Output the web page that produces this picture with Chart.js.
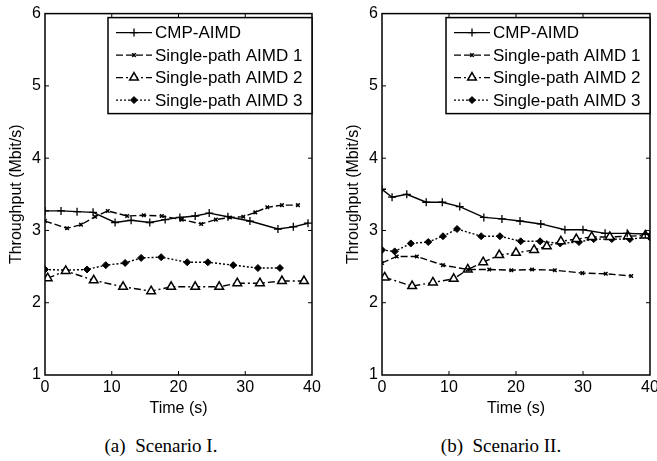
<!DOCTYPE html>
<html>
<head>
<meta charset="utf-8">
<script src="https://cdn.jsdelivr.net/npm/chart.js@4.4.1/dist/chart.umd.min.js"></script>
<style>
body { margin: 0; width: 657px; height: 461px; overflow: hidden; background: #fff; position: relative; }
canvas { position: absolute; top: 0; }
#chartA { left: 0; }
#chartB { left: 337px; }
.cap { position: absolute; top: 435px; width: 220px; text-align: center; font-family: "Liberation Serif", "DejaVu Serif", serif; font-size: 19px; white-space: pre; }
</style>
</head>
<body>
<canvas id="chartA" width="328" height="420"></canvas>
<canvas id="chartB" width="330" height="420"></canvas>
<div class="cap" style="left:51px">(a)  Scenario I.</div>
<div class="cap" style="left:391px">(b)  Scenario II.</div>
<script>
// legend labels
var names = ['CMP-AIMD', 'Single-path AIMD 1', 'Single-path AIMD 2', 'Single-path AIMD 3'];

// axis ticks
var xTicks = [0, 10, 20, 30, 40];
var yTicks = [1, 2, 3, 4, 5, 6];

// Scenario I
var cmpA_t = [0, 2.4, 4.8, 7.2, 10.5, 12.9, 15.7, 18.0, 20.2, 22.5, 24.6, 27.4, 30.7, 34.9, 37.2, 39.4];
var cmpA_v = [3.27, 3.27, 3.26, 3.25, 3.11, 3.14, 3.11, 3.15, 3.18, 3.20, 3.24, 3.19, 3.13, 3.02, 3.05, 3.10];
var a1A_t = [0, 3.3, 5.4, 7.5, 9.4, 12.3, 14.8, 17.5, 20.5, 23.4, 25.6, 27.7, 29.7, 31.5, 33.3, 35.5, 37.9];
var a1A_v = [3.13, 3.03, 3.08, 3.19, 3.27, 3.20, 3.21, 3.20, 3.15, 3.09, 3.15, 3.18, 3.19, 3.25, 3.32, 3.35, 3.35];
var a2A_t = [0.4, 3.1, 7.3, 11.7, 15.9, 18.9, 22.5, 26.1, 28.8, 32.2, 35.5, 38.8];
var a2A_v = [2.34, 2.44, 2.31, 2.22, 2.16, 2.22, 2.22, 2.22, 2.27, 2.27, 2.30, 2.30];
var a3A_t = [0, 3.1, 6.3, 9.1, 12.0, 14.4, 17.4, 21.3, 24.4, 28.2, 31.9, 35.2];
var a3A_v = [2.46, 2.45, 2.46, 2.52, 2.55, 2.62, 2.63, 2.56, 2.56, 2.52, 2.48, 2.48];

// Scenario II
var cmpB_t = [0, 1.5, 3.7, 6.6, 9.0, 11.6, 15.2, 17.9, 20.6, 23.7, 27.3, 30.0, 33.3, 36.6, 39.3, 40];
var cmpB_v = [3.57, 3.46, 3.50, 3.39, 3.39, 3.33, 3.18, 3.16, 3.13, 3.09, 3.01, 3.01, 2.96, 2.96, 2.95, 2.95];
var a1B_t = [0, 2.2, 5.2, 9.1, 12.8, 16.0, 19.3, 22.4, 25.8, 29.9, 33.4, 37.2];
var a1B_v = [2.55, 2.64, 2.64, 2.52, 2.46, 2.46, 2.45, 2.46, 2.45, 2.41, 2.40, 2.37];
var a2B_t = [0.4, 4.5, 7.6, 10.7, 12.8, 15.1, 17.5, 20.0, 22.7, 24.6, 26.7, 29.0, 31.3, 34.0, 36.7, 39.3];
var a2B_v = [2.35, 2.23, 2.28, 2.33, 2.46, 2.56, 2.66, 2.69, 2.73, 2.78, 2.85, 2.88, 2.91, 2.91, 2.92, 2.93];
var a3B_t = [0, 1.9, 4.3, 6.9, 9.1, 11.2, 14.8, 17.6, 20.7, 23.6, 26.6, 29.4, 31.6, 34.3, 37.0, 39.9];
var a3B_v = [2.73, 2.71, 2.82, 2.84, 2.92, 3.02, 2.92, 2.92, 2.85, 2.85, 2.82, 2.84, 2.88, 2.88, 2.88, 2.91];

var FONT = '"Liberation Sans", Arial, sans-serif';

function series(label, ts, vs, dash, style, r, bw, fill) {
    return {
        label: label,
        data: ts.map(function (t, i) { return { x: t, y: vs[i] }; }),
        borderColor: '#000',
        borderWidth: 1.4,
        borderDash: dash,
        pointStyle: style,
        pointRadius: r,
        pointBorderWidth: bw,
        pointBorderColor: '#000',
        pointBackgroundColor: fill,
        tension: 0,
        fill: false
    };
}

function makeSets(c_t, c_v, a1_t, a1_v, a2_t, a2_v, a3_t, a3_v) {
    return [
        series(names[0], c_t, c_v, [], 'cross', 4, 1.3, '#000'),
        series(names[1], a1_t, a1_v, [7, 3], 'crossRot', 2.5, 1.5, '#000'),
        series(names[2], a2_t, a2_v, [7, 3, 2, 3], 'triangle', 5, 1.5, '#fff'),
        series(names[3], a3_t, a3_v, [2, 2], 'rectRot', 3.5, 1, '#000')
    ];
}

// box around the plot and the small inward ticks
var frame = {
    id: 'frame',
    afterDatasetsDraw: function (chart) {
        var ctx = chart.ctx, a = chart.chartArea;
        var xs = chart.scales.x, ys = chart.scales.y;
        ctx.save();
        ctx.strokeStyle = '#000';
        ctx.lineWidth = 1;
        ctx.beginPath();
        xTicks.slice(1, -1).forEach(function (v) {
            var px = xs.getPixelForValue(v);
            ctx.moveTo(px, a.bottom); ctx.lineTo(px, a.bottom - 4);
            ctx.moveTo(px, a.top); ctx.lineTo(px, a.top + 4);
        });
        yTicks.slice(1, -1).forEach(function (v) {
            var py = ys.getPixelForValue(v);
            ctx.moveTo(a.left, py); ctx.lineTo(a.left + 4, py);
            ctx.moveTo(a.right, py); ctx.lineTo(a.right - 4, py);
        });
        ctx.stroke();
        ctx.lineWidth = 1.5;
        ctx.strokeRect(a.left, a.top, a.right - a.left, a.bottom - a.top);
        ctx.restore();
    }
};

// matlab style legend inside the top right corner
var boxLegend = {
    id: 'boxLegend',
    afterDraw: function (chart) {
        var ctx = chart.ctx, a = chart.chartArea;
        var w = 204, h = 96;
        var left = a.right - w, top = a.top + 4;
        ctx.save();
        ctx.fillStyle = '#fff';
        ctx.fillRect(left, top, w, h);
        ctx.strokeStyle = '#000';
        ctx.lineWidth = 1.5;
        ctx.strokeRect(left, top, w, h);
        ctx.font = '17px ' + FONT;
        ctx.textBaseline = 'middle';
        chart.data.datasets.forEach(function (d, i) {
            var y = top + 15 + i * 22.5;
            ctx.strokeStyle = '#000';
            ctx.lineWidth = d.borderWidth;
            ctx.setLineDash(d.borderDash);
            ctx.beginPath();
            ctx.moveTo(left + 8, y);
            ctx.lineTo(left + 44, y);
            ctx.stroke();
            ctx.setLineDash([]);
            ctx.fillStyle = d.pointBackgroundColor;
            ctx.lineWidth = d.pointBorderWidth;
            Chart.helpers.drawPoint(ctx, { pointStyle: d.pointStyle, radius: d.pointRadius, rotation: 0, borderWidth: d.pointBorderWidth }, left + 26, y);
            ctx.fillStyle = '#000';
            ctx.fillText(d.label, left + 47, y + 1);
        });
        ctx.restore();
    }
};

function makeChart(id, sets, padRight) {
    return new Chart(document.getElementById(id).getContext('2d'), {
        type: 'line',
        data: { datasets: sets },
        plugins: [frame, boxLegend],
        options: {
            responsive: false,
            animation: false,
            devicePixelRatio: 1,
            layout: { padding: { top: 13, right: padRight, bottom: 0, left: 0 } },
            plugins: { legend: { display: false }, tooltip: { enabled: false } },
            scales: {
                x: {
                    type: 'linear', min: 0, max: 40,
                    afterBuildTicks: function (s) { s.ticks = xTicks.map(function (v) { return { value: v }; }); },
                    afterFit: function (s) { s.height = 45; },
                    ticks: { color: '#000', font: { family: FONT, size: 16 }, padding: 3, maxRotation: 0 },
                    grid: { display: false, drawTicks: false },
                    border: { display: false },
                    title: { display: true, text: 'Time (s)', color: '#000', font: { family: FONT, size: 16 }, padding: { top: 0, bottom: 2 } }
                },
                y: {
                    type: 'linear', min: 1, max: 6,
                    afterBuildTicks: function (s) { s.ticks = yTicks.map(function (v) { return { value: v }; }); },
                    afterFit: function (s) { s.width = 45; },
                    ticks: { color: '#000', font: { family: FONT, size: 16 }, padding: 4 },
                    grid: { display: false, drawTicks: false },
                    border: { display: false },
                    title: { display: true, text: 'Throughput (Mbit/s)', color: '#000', font: { family: FONT, size: 16 }, padding: { top: 7, bottom: 0 } }
                }
            }
        }
    });
}

makeChart('chartA', makeSets(cmpA_t, cmpA_v, a1A_t, a1A_v, a2A_t, a2A_v, a3A_t, a3A_v), 16);
makeChart('chartB', makeSets(cmpB_t, cmpB_v, a1B_t, a1B_v, a2B_t, a2B_v, a3B_t, a3B_v), 17);
</script>
</body>
</html>
